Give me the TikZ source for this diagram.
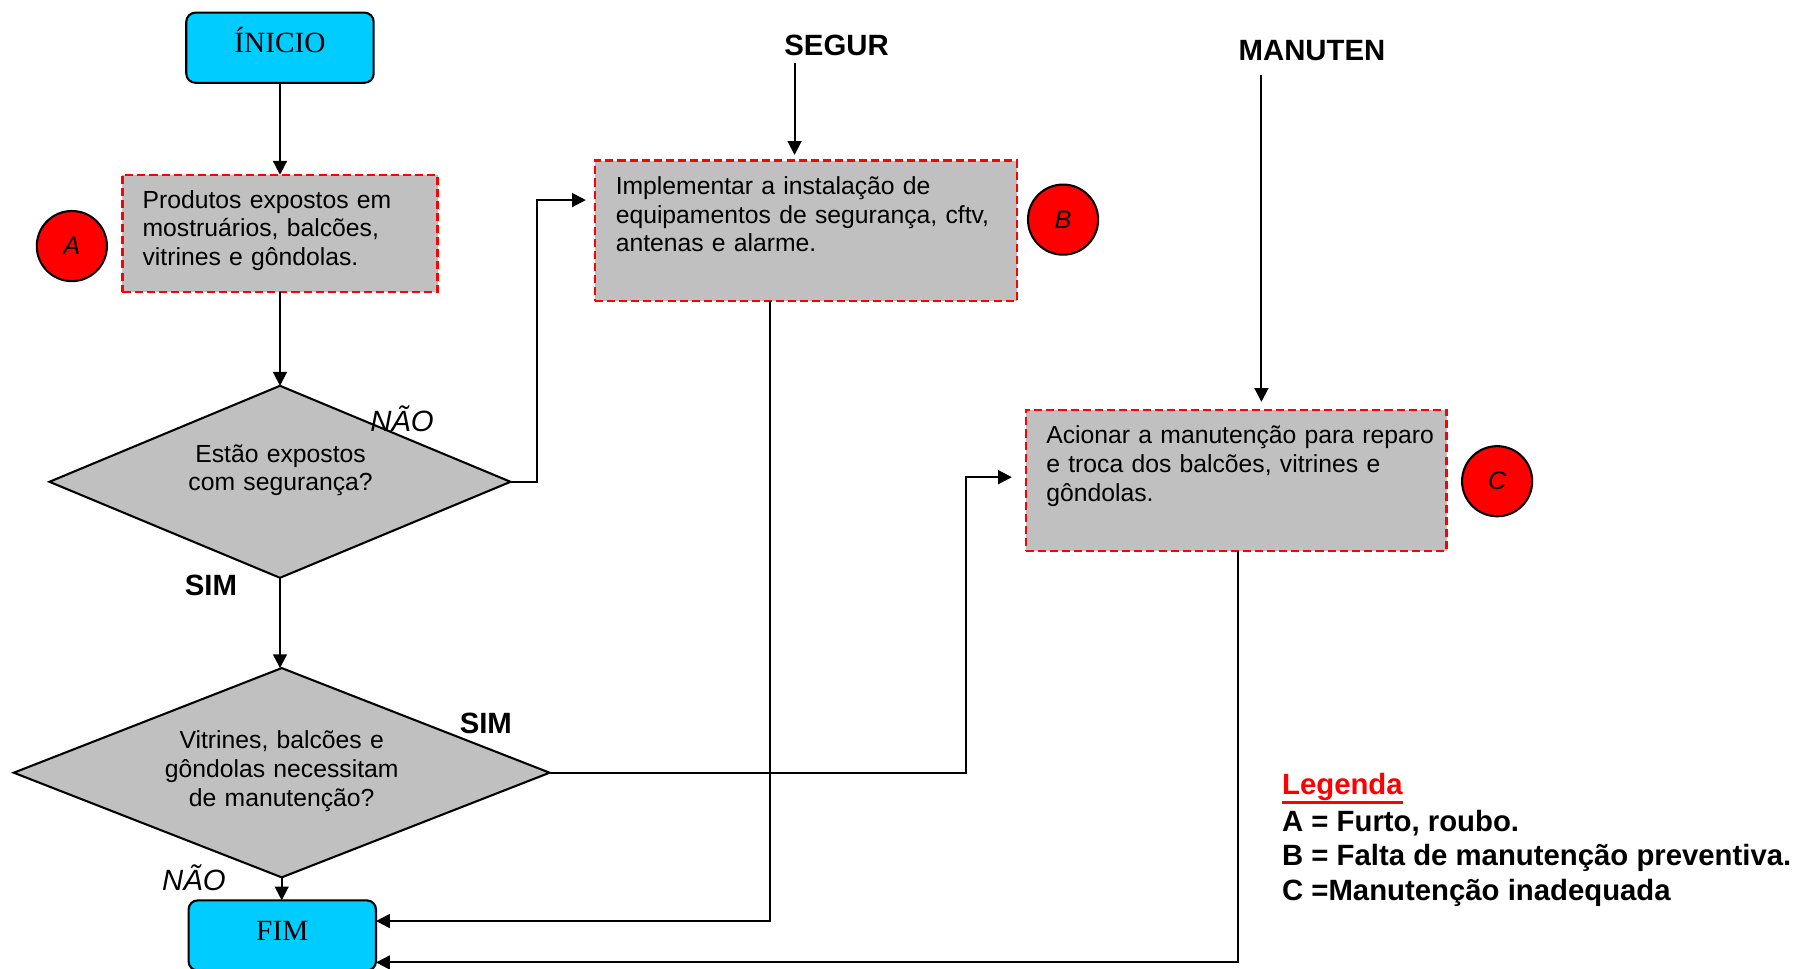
\documentclass[tikz,border=0pt]{standalone}
\usepackage{fontspec}
\setmainfont{Liberation Serif}
\newfontfamily\arial{Liberation Sans}
\usetikzlibrary{shapes.geometric,arrows.meta}

\definecolor{termcyan}{HTML}{00CCFF}
\definecolor{boxgray}{HTML}{C0C0C0}

\begin{document}
\begin{tikzpicture}[x=1pt,y=-1pt,
  every node/.style={inner sep=0pt, outer sep=0pt},
  line/.style={line width=1.8pt, black},
  arr/.style={line, -{Triangle[length=12pt,width=12pt]}},
  terminal/.style={draw=black, line width=1.8pt, fill=termcyan, rounded corners=8pt,
    minimum width=163pt, minimum height=61pt, text height=16pt, text depth=8pt,
    font=\fontsize{25.5}{30}\selectfont},
  stepbox/.style={draw=red, dash pattern=on 7pt off 3.5pt, line width=2pt, fill=boxgray},
  decision/.style={diamond, draw=black, line width=1.8pt, fill=boxgray},
  boxtext/.style={anchor=base west, align=left, font=\arial\fontsize{21.5}{25}\selectfont},
  asktext/.style={anchor=base, align=center, text width=280pt,
    font=\arial\fontsize{21.5}{25}\selectfont},
  marker/.style={circle, draw=black, line width=1.8pt, fill=red, minimum size=61pt,
    font=\arial\itshape\fontsize{22}{26}\selectfont},
  tag/.style={anchor=base, font=\arial\bfseries\fontsize{25.5}{30}\selectfont},
  answer/.style={anchor=base west, font=\arial\itshape\fontsize{25.5}{30}\selectfont},
  legline/.style={anchor=base west, font=\arial\bfseries\fontsize{25.5}{30}\selectfont}
]
\useasboundingbox (0,0) rectangle (1568,842);

% terminals
\node[terminal] (ini) at (243.5,41.5) {ÍNICIO};
\node[terminal] (fim) at (245.5,813.5) {FIM};

% process boxes
\node[stepbox, minimum width=274pt, minimum height=102pt] (prod) at (243.5,203) {};
\node[boxtext, text width=250pt] (prodtxt) at (124,181)
  {Produtos expostos em\\mostruários, balcões,\\vitrines e gôndolas.};

\node[stepbox, minimum width=367pt, minimum height=122pt] (impl) at (701,200.7) {};
\node[boxtext, text width=340pt] (impltxt) at (535.5,169)
  {Implementar a instalação de\\equipamentos de segurança, cftv,\\antenas e alarme.};

\node[stepbox, minimum width=366pt, minimum height=122.5pt] (acion) at (1075,417.75) {};
\node[boxtext, text width=340pt] (aciontxt) at (910,386)
  {Acionar a manutenção para reparo\\e troca dos balcões, vitrines e\\gôndolas.};

% risk markers
\node[marker] (mA) at (62.5,214) {A};
\node[marker] (mB) at (924.5,191) {B};
\node[marker] (mC) at (1302,418.5) {C};

% decisions
\node[decision, minimum width=401pt, minimum height=167pt, aspect=2.4] (d1) at (243.5,419) {};
\node[asktext] (d1txt) at (244,402) {Estão expostos\\com segurança?};
\node[decision, minimum width=466pt, minimum height=182pt, aspect=2.56] (d2) at (245,672) {};
\node[asktext] (d2txt) at (245,651) {Vitrines, balcões e\\gôndolas necessitam\\de manutenção?};

% headings and answers
\node[tag, inner ysep=6pt] (segur) at (727.5,48.7) {SEGUR};
\node[tag, inner ysep=12pt] (manut) at (1141,53) {MANUTEN};
\node[tag] (sim1) at (183.5,518) {SIM};
\node[tag] (sim2) at (422.5,637.7) {SIM};
\node[answer] (nao1) at (322,375) {NÃO};
\node[answer] (nao2) at (141,774) {NÃO};

% legend
\node[legline, text=red] (leg) at (1115,691) {Legenda};
\draw[red, line width=2.6pt] ([yshift=-1.5pt]leg.south west) -- ([yshift=-1.5pt]leg.south east);
\node[legline] (legA) at (1115,723) {A = Furto, roubo.};
\node[legline] (legB) at (1115,753) {B = Falta de manutenção preventiva.};
\node[legline] (legC) at (1115,783) {C =Manutenção inadequada};

% connectors
\coordinate (segTop) at ([xshift=-10pt,yshift=5pt]impl.north);
\coordinate (manTop) at ([xshift=22pt,yshift=7pt]acion.north);

\draw[arr] (ini) -- (prod);
\draw[arr] (prod) -- (d1);
\draw[arr] (d1.south) -- (d1.south |- d2.north);
\draw[arr] (d2.south) -- (d2.south |- fim.north);
\draw[arr] (d1.east) -- ++(23,0) |- ([xshift=-8pt,yshift=26.7pt]impl.west);
\draw[arr] (d2.east) -- ++(362,0) |- ([xshift=-12pt,yshift=2.75pt]acion.west);
\draw[arr] (segTop |- segur.south) -- (segTop);
\draw[arr] (manTop |- manut.south) -- (manTop);
\draw[arr] ([xshift=-31pt]impl.south) |- ([yshift=12.5pt]fim.east);
\draw[arr] ([xshift=1.5pt]acion.south) |- ([yshift=-23.5pt]fim.east);
\end{tikzpicture}
\end{document}
